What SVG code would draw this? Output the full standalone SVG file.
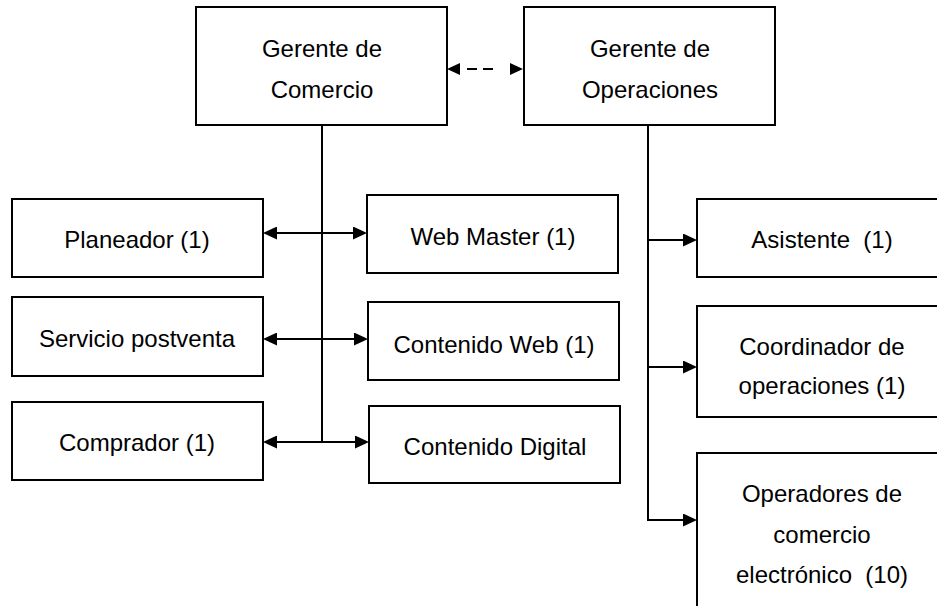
<svg xmlns="http://www.w3.org/2000/svg" width="937" height="606" viewBox="0 0 937 606">
<style>
.box{fill:#fff;stroke:#000;stroke-width:2}
.t{font-family:"Liberation Sans",Arial,sans-serif;font-size:24px;fill:#000;text-anchor:middle;white-space:pre}
.c{stroke:#000;stroke-width:2;fill:none}
</style>
<defs>
<marker id="ah" markerUnits="userSpaceOnUse" markerWidth="14" markerHeight="13" refX="0" refY="6.5" orient="auto-start-reverse" viewBox="0 0 14 13">
<path d="M0,0 L14,6.5 L0,13 z" fill="#000"/>
</marker>
<marker id="ahs" markerUnits="userSpaceOnUse" markerWidth="13" markerHeight="12" refX="0" refY="6" orient="auto-start-reverse" viewBox="0 0 13 12">
<path d="M0,0 L13,6 L0,12 z" fill="#000"/>
</marker>
</defs>
<rect width="937" height="606" fill="#fff"/>
<g id="connectors">
<line class="c" x1="460" y1="69" x2="510" y2="69" stroke-dasharray="0 7 10 6 10 17" marker-start="url(#ahs)" marker-end="url(#ahs)"/>
<line class="c" x1="322" y1="125" x2="322" y2="443"/>
<line class="c" x1="277" y1="233" x2="353" y2="233" marker-start="url(#ah)" marker-end="url(#ah)"/>
<line class="c" x1="277" y1="339" x2="354" y2="339" marker-start="url(#ah)" marker-end="url(#ah)"/>
<line class="c" x1="277" y1="442" x2="355" y2="442" marker-start="url(#ah)" marker-end="url(#ah)"/>
<line class="c" x1="648" y1="125" x2="648" y2="521"/>
<line class="c" x1="647" y1="240" x2="683" y2="240" marker-end="url(#ah)"/>
<line class="c" x1="647" y1="367" x2="683" y2="367" marker-end="url(#ah)"/>
<line class="c" x1="647" y1="520" x2="683" y2="520" marker-end="url(#ah)"/>
</g>
<g id="gerente-comercio"><rect class="box" x="196" y="7" width="251" height="118"/><text class="t" x="322" y="57">Gerente de</text><text class="t" x="322" y="98">Comercio</text></g>
<g id="gerente-operaciones"><rect class="box" x="524" y="7" width="251" height="118"/><text class="t" x="650" y="57">Gerente de</text><text class="t" x="650" y="98">Operaciones</text></g>
<g id="planeador"><rect class="box" x="12" y="199" width="251" height="78"/><text class="t" x="137" y="248">Planeador (1)</text></g>
<g id="servicio"><rect class="box" x="12" y="297" width="251" height="79"/><text class="t" x="137" y="347">Servicio postventa</text></g>
<g id="comprador"><rect class="box" x="12" y="402" width="251" height="78"/><text class="t" x="137" y="451">Comprador (1)</text></g>
<g id="webmaster"><rect class="box" x="367" y="195" width="251" height="78"/><text class="t" x="493" y="245">Web Master (1)</text></g>
<g id="contenido-web"><rect class="box" x="368" y="302" width="251" height="78"/><text class="t" x="494" y="353">Contenido Web (1)</text></g>
<g id="contenido-digital"><rect class="box" x="369" y="406" width="251" height="77"/><text class="t" x="495" y="455">Contenido Digital</text></g>
<g id="asistente"><rect class="box" x="697" y="199" width="250" height="78"/><text class="t" x="822" y="248">Asistente  (1)</text></g>
<g id="coordinador"><rect class="box" x="697" y="306" width="250" height="111"/><text class="t" x="822" y="355">Coordinador de</text><text class="t" x="822" y="394">operaciones (1)</text></g>
<g id="operadores"><rect class="box" x="697" y="453" width="250" height="170"/><text class="t" x="822" y="502">Operadores de</text><text class="t" x="822" y="543">comercio</text><text class="t" x="822" y="583">electrónico  (10)</text></g>
</svg>
